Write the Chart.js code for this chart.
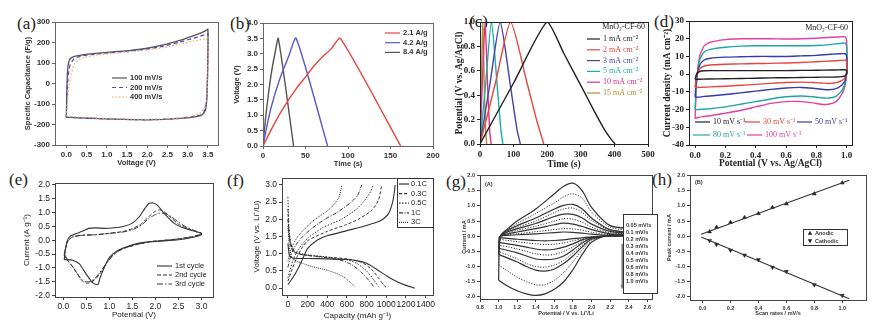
<!DOCTYPE html>
<html>
<head>
<meta charset="utf-8">
<script src="https://cdn.jsdelivr.net/npm/chart.js@4.4.1/dist/chart.umd.min.js"></script>
<style>
  body { margin: 0; width: 876px; height: 324px; background: #fff; position: relative; overflow: hidden; }
  canvas { position: absolute; }
  .lab { position: absolute; font: 17px "Liberation Serif"; color: #222; line-height: 17px; }
</style>
</head>
<body>
<div class="lab" style="left:17px;top:15px">(a)</div>
<div class="lab" style="left:230px;top:15px">(b)</div>
<div class="lab" style="left:469px;top:13px">(c)</div>
<div class="lab" style="left:654px;top:13px">(d)</div>
<div class="lab" style="left:9px;top:171px">(e)</div>
<div class="lab" style="left:227px;top:172px">(f)</div>
<div class="lab" style="left:446px;top:173px">(g)</div>
<div class="lab" style="left:652px;top:171px">(h)</div>
<script>
// (a) CV specific capacitance
const capVolt = [0.0, 0.01, 0.03, 0.06, 0.1, 0.2, 0.4, 0.8, 1.2, 1.6, 2.0, 2.4, 2.8, 3.1, 3.3, 3.45, 3.5, 3.5, 3.48, 3.45, 3.4, 3.3, 3.1, 2.8, 2.4, 2.0, 1.6, 1.2, 0.8, 0.4, 0.2, 0.05, 0.0];
const cap100 = [-165, -50, 60, 105, 122, 132, 140, 148, 155, 162, 172, 188, 210, 230, 245, 258, 265, 150, -50, -120, -145, -158, -165, -170, -175, -177, -176, -174, -171, -168, -166, -165, -165];
const cap200 = [-165, -100, 0, 60, 95, 122, 135, 145, 152, 160, 168, 182, 202, 218, 230, 240, 245, 120, -40, -110, -140, -155, -163, -170, -175, -177, -176, -174, -171, -168, -166, -165, -165];
const cap400 = [-160, -130, -80, -20, 30, 95, 125, 140, 148, 155, 163, 175, 192, 205, 213, 218, 220, 60, -60, -100, -125, -145, -160, -168, -173, -175, -174, -172, -169, -165, -163, -161, -160];
const aTickX = [0, 0.5, 1.0, 1.5, 2.0, 2.5, 3.0, 3.5];
const aTickY = [-300, -200, -100, 0, 100, 200, 300];

// (b) galvanostatic charge/discharge
const bT21 = [0, 10, 20, 30, 40, 50, 60, 70, 80, 91, 162];
const bV21 = [0, 0.55, 1.05, 1.5, 1.9, 2.25, 2.6, 2.9, 3.15, 3.5, 0];
const bT42 = [0, 5, 10, 20, 30, 39, 76];
const bV42 = [0, 0.7, 1.3, 2.2, 2.9, 3.5, 0];
const bT84 = [0, 3, 6, 10, 14, 18, 36];
const bV84 = [0, 0.9, 1.6, 2.4, 3.0, 3.5, 0];
const bTickX = [0, 50, 100, 150, 200];
const bTickY = [0, 0.5, 1.0, 1.5, 2.0, 2.5, 3.0, 3.5, 4.0];

// (c) MnO2-CF-60 charge/discharge
const cT1 = [0, 100, 200, 250, 300, 340, 370, 390, 402];
const cV1 = [0, 0.5, 1.0, 0.74, 0.48, 0.27, 0.12, 0.04, 0];
const cT2 = [0, 46, 91, 140, 170, 190];
const cV2 = [0, 0.5, 1.0, 0.5, 0.18, 0];
const cT3 = [0, 30, 60, 92, 110, 120];
const cV3 = [0, 0.5, 1.0, 0.45, 0.12, 0];
const cT5 = [0, 17, 34, 52, 62, 68];
const cV5 = [0, 0.5, 1.0, 0.45, 0.12, 0];
const cT10 = [0, 7, 15, 23, 29, 33];
const cV10 = [0, 0.5, 1.0, 0.45, 0.1, 0];
const cT15 = [0, 4, 8, 13, 17, 20];
const cV15 = [0, 0.5, 1.0, 0.45, 0.1, 0];
const cTickX = [0, 100, 200, 300, 400, 500];
const cTickY = [0, 0.2, 0.4, 0.6, 0.8, 1.0];

// (d) MnO2-CF-60 CV
const dX = [0.0, 0.01, 0.03, 0.06, 0.1, 0.2, 0.3, 0.4, 0.5, 0.6, 0.7, 0.8, 0.9, 0.95, 0.99, 1.0, 1.0, 0.99, 0.97, 0.93, 0.88, 0.83, 0.78, 0.7, 0.6, 0.5, 0.4, 0.3, 0.2, 0.1, 0.05, 0.02, 0.0];
const d10 = [-3, 0, 1.5, 1.9, 2, 2, 2, 2, 2, 2, 2.1, 2.2, 2.3, 2.4, 2.5, 2, 0, -1, -1.4, -1.6, -1.7, -1.7, -1.8, -1.9, -2, -2.1, -2.3, -2.5, -2.6, -2.7, -2.8, -2.9, -3];
const d30 = [-7.5, -1, 3, 4.6, 5.2, 5.6, 5.8, 6, 6.1, 6.3, 6.6, 7, 7.4, 7.7, 7.9, 7, 1, -2, -3.5, -4.8, -5.3, -5, -4.7, -4.5, -4.7, -5.2, -5.8, -6.3, -6.8, -7.2, -7.4, -7.5, -7.5];
const d50 = [-13, -2, 5, 8, 9, 9.6, 9.8, 10, 10, 10, 10.3, 10.6, 11.2, 11.5, 11.5, 10, 1, -3.5, -6, -8.2, -8.8, -8.5, -8, -7.5, -7.8, -8.6, -9.6, -10.6, -11.5, -12.3, -12.7, -13, -13];
const d80 = [-20, -4, 8, 12.5, 14, 15.2, 15.8, 16, 16, 16, 16, 16.2, 16.8, 17.3, 17.5, 15, 2, -5, -9, -12.5, -13.5, -13.3, -12.8, -12.3, -12.8, -14, -15.5, -17, -18.5, -19.5, -19.8, -20, -20];
const d100 = [-25, -5, 10, 16, 18, 19.5, 20, 20, 20, 19.8, 20, 20.3, 20.8, 21, 21, 18, 2, -6, -11, -15.5, -17, -17, -16.2, -15.5, -15.5, -16.5, -18.5, -20.5, -22, -23.5, -24, -24.5, -25];
const dTickX = [0, 0.2, 0.4, 0.6, 0.8, 1.0];
const dTickY = [-40, -30, -20, -10, 0, 10, 20, 30];

// (e) CV cycles
const e1X = [0.02, 0.04, 0.08, 0.15, 0.3, 0.45, 0.55, 0.7, 0.9, 1.1, 1.3, 1.5, 1.65, 1.75, 1.85, 1.95, 2.05, 2.2, 2.4, 2.6, 2.8, 3.0, 3.0, 2.8, 2.5, 2.2, 1.9, 1.6, 1.3, 1.15, 1.0, 0.9, 0.8, 0.75, 0.65, 0.55, 0.45, 0.35, 0.2, 0.1, 0.02];
const e1Y = [-0.7, -0.4, -0.05, 0.15, 0.25, 0.35, 0.43, 0.45, 0.43, 0.45, 0.5, 0.62, 0.85, 1.1, 1.32, 1.35, 1.25, 0.95, 0.62, 0.45, 0.35, 0.25, 0.2, 0.1, 0.02, -0.02, -0.05, -0.12, -0.28, -0.4, -0.62, -0.95, -1.35, -1.6, -1.55, -1.35, -1.1, -0.85, -0.72, -0.7, -0.7];
const e2X = [0.02, 0.05, 0.1, 0.2, 0.4, 0.7, 1.0, 1.3, 1.5, 1.7, 1.85, 2.0, 2.1, 2.2, 2.35, 2.5, 2.7, 2.9, 3.0, 3.0, 2.8, 2.5, 2.2, 1.9, 1.6, 1.3, 1.1, 0.95, 0.8, 0.7, 0.6, 0.5, 0.4, 0.3, 0.2, 0.1, 0.02];
const e2Y = [-0.55, -0.3, -0.02, 0.12, 0.18, 0.2, 0.25, 0.32, 0.42, 0.6, 0.85, 1.05, 1.1, 1.02, 0.8, 0.58, 0.42, 0.3, 0.25, 0.22, 0.13, 0.05, 0.0, -0.05, -0.15, -0.3, -0.5, -0.8, -1.2, -1.4, -1.52, -1.55, -1.45, -1.2, -0.95, -0.75, -0.55];
const e3Y = [-0.5, -0.28, -0.02, 0.12, 0.18, 0.2, 0.25, 0.3, 0.38, 0.55, 0.78, 0.93, 0.98, 0.97, 0.85, 0.65, 0.45, 0.32, 0.26, 0.22, 0.13, 0.05, 0.0, -0.05, -0.15, -0.3, -0.5, -0.8, -1.15, -1.35, -1.48, -1.5, -1.42, -1.2, -0.95, -0.72, -0.5];
const eTickX = [0, 0.5, 1.0, 1.5, 2.0, 2.5, 3.0];
const eTickY = [-2.0, -1.5, -1.0, -0.5, 0, 0.5, 1.0, 1.5, 2.0];

// (f) discharge (d) / charge (c) profiles
const f01dQ = [0, 15, 40, 100, 200, 400, 600, 700, 800, 900, 1000, 1100, 1200, 1290];
const f01dV = [1.3, 0.95, 0.88, 0.86, 0.86, 0.85, 0.83, 0.8, 0.72, 0.55, 0.36, 0.2, 0.08, 0.0];
const f01cQ = [0, 50, 100, 150, 200, 300, 400, 600, 800, 950, 1020, 1060, 1080, 1090];
const f01cV = [0.1, 0.3, 0.55, 0.85, 1.15, 1.4, 1.52, 1.67, 1.82, 1.97, 2.15, 2.45, 2.75, 3.0];
const f03dQ = [0, 10, 30, 60, 100, 200, 400, 600, 750, 850, 920, 970, 1000];
const f03dV = [2.3, 1.6, 1.2, 1.05, 1.0, 0.95, 0.9, 0.85, 0.75, 0.55, 0.3, 0.1, 0.02];
const f03cQ = [0, 50, 100, 150, 200, 400, 600, 715, 850, 920, 955];
const f03cV = [0.2, 0.6, 0.95, 1.2, 1.38, 1.65, 1.85, 2.0, 2.25, 2.55, 3.0];
const f05dQ = [0, 10, 30, 60, 100, 200, 400, 600, 700, 800, 870, 920];
const f05dV = [2.65, 1.8, 1.3, 1.1, 1.02, 0.97, 0.9, 0.82, 0.72, 0.5, 0.25, 0.05];
const f05cQ = [0, 50, 100, 200, 350, 545, 700, 765, 830, 870];
const f05cV = [0.3, 0.8, 1.1, 1.45, 1.75, 2.0, 2.3, 2.5, 2.75, 3.0];
const f1dQ = [0, 20, 50, 100, 200, 400, 550, 650, 750, 830, 870];
const f1dV = [2.0, 1.4, 1.1, 1.0, 0.95, 0.88, 0.8, 0.68, 0.45, 0.2, 0.05];
const f1cQ = [0, 30, 80, 150, 250, 375, 500, 645, 710, 750];
const f1cV = [0.6, 0.95, 1.25, 1.5, 1.75, 2.0, 2.2, 2.5, 2.7, 3.0];
const f3dQ = [0, 15, 40, 80, 150, 250, 400, 500, 580, 640, 680];
const f3dV = [1.8, 1.2, 0.9, 0.8, 0.72, 0.62, 0.52, 0.42, 0.3, 0.15, 0.05];
const f3cQ = [0, 30, 60, 100, 180, 275, 380, 460, 520, 550];
const f3cV = [0.8, 1.1, 1.3, 1.5, 1.75, 2.0, 2.2, 2.4, 2.65, 3.0];
const fTickX = [0, 200, 400, 600, 800, 1000, 1200, 1400];
const fTickY = [0, 0.5, 1.0, 1.5, 2.0, 2.5, 3.0];

// (g) CV at several scan rates
const gRates = ['0.05 mV/s', '0.1 mV/s', '0.2 mV/s', '0.3 mV/s', '0.4 mV/s', '0.5 mV/s', '0.6 mV/s', '0.8 mV/s', '1.0 mV/s'];
const gX = [1.0, 1.02, 1.1, 1.2, 1.4, 1.6, 1.7, 1.8, 1.9, 2.0, 2.2, 2.5, 2.5, 2.2, 2.0, 1.9, 1.8, 1.7, 1.6, 1.5, 1.4, 1.3, 1.2, 1.1, 1.0];
const g005 = [-0.05, 0.0, 0.03, 0.05, 0.08, 0.12, 0.14, 0.13, 0.1, 0.07, 0.03, 0.02, 0.0, 0.0, -0.02, -0.05, -0.08, -0.12, -0.14, -0.15, -0.14, -0.12, -0.1, -0.07, -0.05];
const g01 = [-0.1, 0.0, 0.05, 0.08, 0.15, 0.22, 0.25, 0.24, 0.2, 0.13, 0.05, 0.03, 0.01, 0.0, -0.03, -0.08, -0.15, -0.22, -0.26, -0.27, -0.25, -0.22, -0.18, -0.14, -0.1];
const g02 = [-0.2, 0.0, 0.08, 0.14, 0.25, 0.38, 0.43, 0.4, 0.32, 0.22, 0.08, 0.05, 0.02, 0.01, -0.04, -0.12, -0.25, -0.36, -0.43, -0.45, -0.42, -0.36, -0.3, -0.25, -0.2];
const g03 = [-0.3, 0.0, 0.12, 0.2, 0.33, 0.5, 0.58, 0.56, 0.46, 0.3, 0.12, 0.06, 0.03, 0.02, -0.05, -0.18, -0.35, -0.5, -0.6, -0.62, -0.58, -0.5, -0.42, -0.35, -0.3];
const g04 = [-0.4, 0.0, 0.15, 0.25, 0.42, 0.65, 0.73, 0.72, 0.6, 0.4, 0.16, 0.07, 0.03, 0.02, -0.06, -0.22, -0.45, -0.65, -0.75, -0.77, -0.75, -0.65, -0.55, -0.47, -0.4];
const g05 = [-0.5, 0.0, 0.17, 0.3, 0.5, 0.78, 0.9, 0.93, 0.78, 0.52, 0.2, 0.08, 0.04, 0.02, -0.08, -0.3, -0.55, -0.8, -0.95, -1.02, -1.0, -0.9, -0.75, -0.62, -0.5];
const g06 = [-0.6, 0.0, 0.2, 0.35, 0.6, 0.9, 1.02, 1.05, 0.9, 0.6, 0.22, 0.1, 0.04, 0.02, -0.1, -0.35, -0.65, -0.9, -1.08, -1.15, -1.12, -1.0, -0.85, -0.72, -0.6];
const g08 = [-0.95, 0.0, 0.22, 0.42, 0.75, 1.1, 1.3, 1.4, 1.25, 0.8, 0.3, 0.15, 0.05, 0.03, -0.15, -0.45, -0.85, -1.2, -1.45, -1.6, -1.6, -1.5, -1.35, -1.15, -0.95];
const g10 = [-1.45, 0.0, 0.25, 0.5, 0.9, 1.4, 1.65, 1.75, 1.5, 0.95, 0.35, 0.22, 0.05, 0.05, -0.2, -0.6, -1.1, -1.5, -1.75, -1.9, -1.95, -1.9, -1.8, -1.65, -1.45];
const gArrow = [2.33, -0.25, -1.75];
const gTickX = [0.8, 1.0, 1.2, 1.4, 1.6, 1.8, 2.0, 2.2, 2.4, 2.6];
const gTickY = [-2.0, -1.5, -1.0, -0.5, 0, 0.5, 1.0, 1.5, 2.0];

// (h) peak current vs scan rate
const hRate = [0.05, 0.1, 0.2, 0.3, 0.4, 0.5, 0.6, 0.8, 1.0];
const hAnodic = [0.15, 0.3, 0.46, 0.62, 0.75, 0.95, 1.07, 1.4, 1.76];
const hCathodic = [-0.14, -0.27, -0.46, -0.62, -0.77, -1.02, -1.16, -1.6, -1.95];
const hFitX = [-0.01, 1.05];
const hFitA = [0.07, 1.85];
const hFitC = [-0.02, -2.06];
const hTickX = [0, 0.2, 0.4, 0.6, 0.8, 1.0];
const hTickY = [-2.0, -1.5, -1.0, -0.5, 0, 0.5, 1.0, 1.5, 2.0];

const SANS = 'Liberation Sans';
const SERIF = 'Liberation Serif';

function pts(xs, ys) {
  return xs.map((x, i) => ({ x: x, y: ys[i] }));
}

function ln(xs, ys, color, w, dash, tension) {
  return {
    data: pts(xs, ys), showLine: true, pointRadius: 0, fill: false,
    borderColor: color, borderWidth: w, borderDash: dash || [], tension: tension || 0
  };
}

function axis(o) {
  return {
    type: 'linear', min: o.min, max: o.max,
    afterBuildTicks: s => { s.ticks = o.ticks.map(v => ({ value: v })); },
    afterFit: s => { if (o.isY) s.width = o.size; else s.height = o.size; },
    grid: { drawOnChartArea: false, drawTicks: true, tickLength: 3, color: o.fc, lineWidth: 1 },
    border: { display: false },
    ticks: {
      autoSkip: false, maxRotation: 0, padding: 2, color: o.tc, font: o.tf,
      callback: v => v.toFixed(o.dec)
    },
    title: { display: true, text: o.title, color: o.tc, font: o.ttf, padding: 0 }
  };
}

function tri(ctx, x, y, r, down) {
  ctx.beginPath();
  if (down) {
    ctx.moveTo(x - r, y - r * 0.8); ctx.lineTo(x + r, y - r * 0.8); ctx.lineTo(x, y + r);
  } else {
    ctx.moveTo(x - r, y + r * 0.8); ctx.lineTo(x + r, y + r * 0.8); ctx.lineTo(x, y - r);
  }
  ctx.closePath();
  ctx.fill();
}

function legend(ctx, ox, oy, L) {
  ctx.save();
  ctx.font = L.font;
  ctx.textBaseline = 'middle';
  ctx.textAlign = 'left';
  if (L.box) {
    const b = L.box;
    ctx.fillStyle = '#fff';
    ctx.fillRect(b[0] - ox, b[1] - oy, b[2] - b[0], b[3] - b[1]);
    ctx.strokeStyle = '#333';
    ctx.lineWidth = 1;
    ctx.strokeRect(b[0] - ox + 0.5, b[1] - oy + 0.5, b[2] - b[0], b[3] - b[1]);
  }
  if (L.title) {
    ctx.fillStyle = L.tc;
    ctx.textAlign = 'right';
    ctx.fillText(L.title[0], L.title[1] - ox, L.title[2] - oy);
    ctx.textAlign = 'left';
  }
  L.items.forEach((it, i) => {
    const y = (it.y != null ? it.y : L.y0 + i * L.dy) - oy;
    const x1 = it.x1 != null ? it.x1 : L.x1;
    const x2 = it.x2 != null ? it.x2 : L.x2;
    const tx = it.tx != null ? it.tx : L.tx;
    if (it.c) {
      ctx.strokeStyle = it.c;
      ctx.lineWidth = it.w || 1.2;
      ctx.setLineDash(it.d || []);
      ctx.beginPath();
      ctx.moveTo(x1 - ox, y);
      ctx.lineTo(x2 - ox, y);
      ctx.stroke();
      ctx.setLineDash([]);
    }
    if (it.m) {
      ctx.fillStyle = '#222';
      tri(ctx, L.mx - ox, y, 2.2, it.m === 'down');
    }
    ctx.fillStyle = it.tc || L.tc;
    ctx.fillText(it.t, tx - ox, y);
  });
  ctx.restore();
}

function panel(p) {
  const lh = p.ttf.size * 1.2;
  const cx = Math.round(p.yt - lh / 2);
  const cy = p.T - 8;
  const cw = p.R - cx + 18;
  const ch = Math.round(p.xt + lh / 2 - cy + 2);
  const yW = p.L - cx;
  const xH = ch - 2 - (p.B - cy);
  const c = document.createElement('canvas');
  c.width = cw;
  c.height = ch;
  c.style.left = cx + 'px';
  c.style.top = cy + 'px';
  document.body.appendChild(c);
  const common = { fc: p.fc, tc: p.tc, tf: p.tf, ttf: p.ttf };
  new Chart(c, {
    type: 'scatter',
    data: { datasets: p.datasets },
    options: {
      responsive: false,
      animation: false,
      events: [],
      layout: { padding: { left: 0, top: 8, right: 18, bottom: 2 } },
      plugins: { legend: { display: false }, tooltip: { enabled: false } },
      scales: {
        x: axis(Object.assign({ isY: false, size: xH }, common, p.x)),
        y: axis(Object.assign({ isY: true, size: yW }, common, p.y))
      }
    },
    plugins: [{
      id: 'frame',
      afterDraw(chart) {
        const ctx = chart.ctx, a = chart.chartArea;
        ctx.save();
        ctx.strokeStyle = p.fc;
        ctx.lineWidth = 1;
        ctx.strokeRect(Math.round(a.left) + 0.5, Math.round(a.top) + 0.5,
          Math.round(a.right - a.left), Math.round(a.bottom - a.top));
        ctx.restore();
        if (p.extra) p.extra(ctx, chart, cx, cy);
      }
    }]
  });
}

// shared looks
const sansB8 = { family: SANS, size: 8, weight: 'bold' };
const sansB75 = { family: SANS, size: 7.5, weight: 'bold' };
const sans85 = { family: SANS, size: 8.5 };
const sans8 = { family: SANS, size: 8 };
const serifB9 = { family: SERIF, size: 9, weight: 'bold' };
const serifB95 = { family: SERIF, size: 9.5, weight: 'bold' };
const tiny = { family: SANS, size: 5.5, weight: 'bold' };

// (a)
panel({
  L: 55, T: 22, R: 218, B: 145, yt: 27, xt: 162,
  fc: '#666', tc: '#333', tf: sansB8, ttf: sansB75,
  x: { min: -0.28, max: 3.75, ticks: aTickX, dec: 1, title: 'Voltage (V)' },
  y: { min: -300, max: 300, ticks: aTickY, dec: 0, title: 'Specific Capacitance (F/g)' },
  datasets: [
    ln(capVolt, cap400, '#f4a460', 1.2, [1.5, 2], 0.15),
    ln(capVolt, cap200, '#4b4bb0', 1.2, [4, 3], 0.15),
    ln(capVolt, cap100, '#555', 1.3, [], 0.15)
  ],
  extra: (ctx, chart, ox, oy) => legend(ctx, ox, oy, {
    font: 'bold 7.5px "Liberation Sans"', tc: '#333', x1: 112, x2: 127, tx: 130, y0: 78, dy: 9.5,
    items: [
      { t: '100 mV/s', c: '#555' },
      { t: '200 mV/s', c: '#4b4bb0', d: [4, 3] },
      { t: '400 mV/s', c: '#f4a460', d: [1.5, 2] }
    ]
  })
});

// (b)
panel({
  L: 263, T: 23, R: 433, B: 146, yt: 236, xt: 163,
  fc: '#666', tc: '#333', tf: sansB8, ttf: sansB75,
  x: { min: 0, max: 200, ticks: bTickX, dec: 0, title: 'Time (s)' },
  y: { min: 0, max: 4, ticks: bTickY, dec: 1, title: 'Voltage (V)' },
  datasets: [
    ln(bT21, bV21, '#e8453c', 1.4, [], 0.2),
    ln(bT42, bV42, '#5a5ac8', 1.4, [], 0.2),
    ln(bT84, bV84, '#555', 1.4, [], 0.2)
  ],
  extra: (ctx, chart, ox, oy) => legend(ctx, ox, oy, {
    font: 'bold 7.5px "Liberation Sans"', tc: '#333', x1: 385, x2: 400, tx: 403, y0: 33, dy: 9.7,
    items: [
      { t: '2.1 A/g', c: '#e8453c' },
      { t: '4.2 A/g', c: '#5a5ac8' },
      { t: '8.4 A/g', c: '#555' }
    ]
  })
});

// (c)
const cCol = ['#222', '#e8453c', '#4b3fa8', '#1ab0a8', '#e0308a', '#a89030'];
panel({
  L: 480, T: 22, R: 648, B: 144, yt: 460, xt: 164,
  fc: '#222', tc: '#222', tf: serifB9, ttf: serifB95,
  x: { min: 0, max: 500, ticks: cTickX, dec: 0, title: 'Time (s)' },
  y: { min: 0, max: 1, ticks: cTickY, dec: 1, title: 'Potential (V vs. Ag/AgCl)' },
  datasets: [
    ln(cT1, cV1, cCol[0], 1.4, [], 0.2),
    ln(cT2, cV2, cCol[1], 1.4, [], 0.2),
    ln(cT3, cV3, cCol[2], 1.4, [], 0.2),
    ln(cT5, cV5, cCol[3], 1.4, [], 0.2),
    ln(cT10, cV10, cCol[4], 1.4, [], 0.2),
    ln(cT15, cV15, cCol[5], 1.4, [], 0.2)
  ],
  extra: (ctx, chart, ox, oy) => legend(ctx, ox, oy, {
    font: '8px "Liberation Serif"', tc: '#222', x1: 587, x2: 600, tx: 603, y0: 39, dy: 10.8,
    title: ['MnO₂-CF-60', 645, 27],
    items: [
      { t: '1 mA cm⁻²', c: cCol[0], tc: cCol[0] },
      { t: '2 mA cm⁻²', c: cCol[1], tc: cCol[1] },
      { t: '3 mA cm⁻²', c: cCol[2], tc: cCol[2] },
      { t: '5 mA cm⁻²', c: cCol[3], tc: cCol[3] },
      { t: '10 mA cm⁻²', c: cCol[4], tc: cCol[4] },
      { t: '15 mA cm⁻²', c: cCol[5], tc: cCol[5] }
    ]
  })
});

// (d)
const dCol = ['#222', '#e8453c', '#3838b0', '#20a8a0', '#e040a0'];
panel({
  L: 689, T: 21, R: 852, B: 145, yt: 668, xt: 163,
  fc: '#222', tc: '#222', tf: serifB9, ttf: serifB95,
  x: { min: -0.04, max: 1.035, ticks: dTickX, dec: 1, title: 'Potential (V vs. Ag/AgCl)' },
  y: { min: -40, max: 30, ticks: dTickY, dec: 0, title: 'Current density (mA cm⁻²)' },
  datasets: [
    ln(dX, d10, dCol[0], 1.4, [], 0.2),
    ln(dX, d30, dCol[1], 1.4, [], 0.2),
    ln(dX, d50, dCol[2], 1.4, [], 0.2),
    ln(dX, d80, dCol[3], 1.4, [], 0.2),
    ln(dX, d100, dCol[4], 1.4, [], 0.2)
  ],
  extra: (ctx, chart, ox, oy) => legend(ctx, ox, oy, {
    font: '8px "Liberation Serif"', tc: '#222',
    title: ['MnO₂-CF-60', 848, 28],
    items: [
      { t: '10 mV s⁻¹', c: dCol[0], tc: dCol[0], x1: 695, x2: 710, tx: 713, y: 122 },
      { t: '30 mV s⁻¹', c: dCol[1], tc: dCol[1], x1: 745, x2: 760, tx: 763, y: 122 },
      { t: '50 mV s⁻¹', c: dCol[2], tc: dCol[2], x1: 797, x2: 812, tx: 815, y: 122 },
      { t: '80 mV s⁻¹', c: dCol[3], tc: dCol[3], x1: 693, x2: 710, tx: 713, y: 135 },
      { t: '100 mV s⁻¹', c: dCol[4], tc: dCol[4], x1: 747, x2: 762, tx: 765, y: 135 }
    ]
  })
});

// (e)
panel({
  L: 55, T: 183, R: 213, B: 297, yt: 27, xt: 315,
  fc: '#444', tc: '#222', tf: sans85, ttf: sans8,
  x: { min: -0.18, max: 3.25, ticks: eTickX, dec: 1, title: 'Potential (V)' },
  y: { min: -2.05, max: 2.07, ticks: eTickY, dec: 1, title: 'Current (A g⁻¹)' },
  datasets: [
    ln(e2X, e3Y, '#333', 1, [6, 2, 1.5, 2], 0.2),
    ln(e2X, e2Y, '#333', 1, [4, 2], 0.2),
    ln(e1X, e1Y, '#333', 1.1, [], 0.2)
  ],
  extra: (ctx, chart, ox, oy) => legend(ctx, ox, oy, {
    font: '7.5px "Liberation Sans"', tc: '#222', x1: 157, x2: 172, tx: 175, y0: 266, dy: 9,
    items: [
      { t: '1st cycle', c: '#333', w: 1.1 },
      { t: '2nd cycle', c: '#333', w: 1, d: [4, 2] },
      { t: '3rd cycle', c: '#333', w: 1, d: [6, 2, 1.5, 2] }
    ]
  })
});

// (f)
const fDash = [[], [3, 2], [1.5, 1.5], [4, 1.5, 1, 1.5], [1, 1]];
panel({
  L: 282, T: 178, R: 433, B: 295, yt: 257, xt: 316,
  fc: '#444', tc: '#222', tf: sans85, ttf: sans8,
  x: { min: -60, max: 1475, ticks: fTickX, dec: 0, title: 'Capacity (mAh g⁻¹)' },
  y: { min: -0.2, max: 3.2, ticks: fTickY, dec: 1, title: 'Voltage (V vs. Li⁺/Li)' },
  datasets: [
    ln(f01dQ, f01dV, '#333', 1.1, fDash[0], 0.2),
    ln(f01cQ, f01cV, '#333', 1.1, fDash[0], 0.2),
    ln(f03dQ, f03dV, '#333', 1, fDash[1], 0.2),
    ln(f03cQ, f03cV, '#333', 1, fDash[1], 0.2),
    ln(f05dQ, f05dV, '#333', 1, fDash[2], 0.2),
    ln(f05cQ, f05cV, '#333', 1, fDash[2], 0.2),
    ln(f1dQ, f1dV, '#333', 1, fDash[3], 0.2),
    ln(f1cQ, f1cV, '#333', 1, fDash[3], 0.2),
    ln(f3dQ, f3dV, '#333', 1, fDash[4], 0.2),
    ln(f3cQ, f3cV, '#333', 1, fDash[4], 0.2)
  ],
  extra: (ctx, chart, ox, oy) => legend(ctx, ox, oy, {
    font: '7.5px "Liberation Sans"', tc: '#222', x1: 399, x2: 409, tx: 411, y0: 184, dy: 9.6,
    box: [397, 178, 433, 227],
    items: [
      { t: '0.1C', c: '#333', d: fDash[0] },
      { t: '0.3C', c: '#333', d: fDash[1] },
      { t: '0.5C', c: '#333', d: fDash[2] },
      { t: '1C', c: '#333', d: fDash[3] },
      { t: '3C', c: '#333', d: fDash[4] }
    ]
  })
});

// (g)
const gSeries = [g005, g01, g02, g03, g04, g05, g06, g08, g10];
const gStyle = [[], [1.2, 1.5], [], [1.2, 1.5], [], [1.2, 1.5], [], [1.2, 1.5], []];
panel({
  L: 480, T: 175, R: 652, B: 299, yt: 464, xt: 314,
  fc: '#444', tc: '#333', tf: tiny, ttf: tiny,
  x: { min: 0.8, max: 2.65, ticks: gTickX, dec: 1, title: 'Potential / V vs. Li⁺/Li' },
  y: { min: -2.07, max: 2.02, ticks: gTickY, dec: 1, title: 'Current / mA' },
  datasets: gSeries.map((s, i) => ln(gX, s, '#333', gStyle[i].length ? 1 : 1.2, gStyle[i], 0.3)),
  extra: (ctx, chart, ox, oy) => {
    const sx = chart.scales.x, sy = chart.scales.y;
    const ax = sx.getPixelForValue(gArrow[0]);
    const ay1 = sy.getPixelForValue(gArrow[1]);
    const ay2 = sy.getPixelForValue(gArrow[2]);
    ctx.save();
    ctx.strokeStyle = '#777';
    ctx.fillStyle = '#777';
    ctx.lineWidth = 1.5;
    ctx.beginPath();
    ctx.moveTo(ax, ay1);
    ctx.lineTo(ax, ay2 - 3);
    ctx.stroke();
    ctx.beginPath();
    ctx.moveTo(ax - 2, ay2 - 4);
    ctx.lineTo(ax + 2, ay2 - 4);
    ctx.lineTo(ax, ay2);
    ctx.closePath();
    ctx.fill();
    ctx.fillStyle = '#333';
    ctx.font = 'bold 5.5px "Liberation Sans"';
    ctx.textBaseline = 'middle';
    ctx.fillText('(A)', 485 - ox, 184 - oy);
    ctx.restore();
    legend(ctx, ox, oy, {
      font: 'bold 5.5px "Liberation Sans"', tc: '#333', tx: 626, y0: 225, dy: 7.1,
      box: [623, 214, 657, 293],
      items: gRates.map(r => ({ t: r }))
    });
  }
});

// (h)
panel({
  L: 690, T: 175, R: 866, B: 300, yt: 669, xt: 314,
  fc: '#444', tc: '#333', tf: tiny, ttf: tiny,
  x: { min: -0.09, max: 1.17, ticks: hTickX, dec: 1, title: 'Scan rates / mV/s' },
  y: { min: -2.1, max: 2.02, ticks: hTickY, dec: 1, title: 'Peak current / mA' },
  datasets: [
    ln(hFitX, hFitA, '#333', 1.1, [], 0),
    ln(hFitX, hFitC, '#333', 1.1, [], 0),
    { data: pts(hRate, hAnodic), pointStyle: 'triangle', pointRadius: 2.3, backgroundColor: '#222', borderColor: '#222', borderWidth: 0.5 },
    { data: pts(hRate, hCathodic), pointStyle: 'triangle', rotation: 180, pointRadius: 2.3, backgroundColor: '#222', borderColor: '#222', borderWidth: 0.5 }
  ],
  extra: (ctx, chart, ox, oy) => {
    ctx.save();
    ctx.fillStyle = '#333';
    ctx.font = 'bold 5.5px "Liberation Sans"';
    ctx.textBaseline = 'middle';
    ctx.fillText('(B)', 695 - ox, 182 - oy);
    ctx.restore();
    legend(ctx, ox, oy, {
      font: 'bold 5.5px "Liberation Sans"', tc: '#333', tx: 815, mx: 810, y0: 233, dy: 8,
      box: [803, 229, 847, 245],
      items: [{ t: 'Anodic', m: 'up' }, { t: 'Cathodic', m: 'down' }]
    });
  }
});
</script>
</body>
</html>
